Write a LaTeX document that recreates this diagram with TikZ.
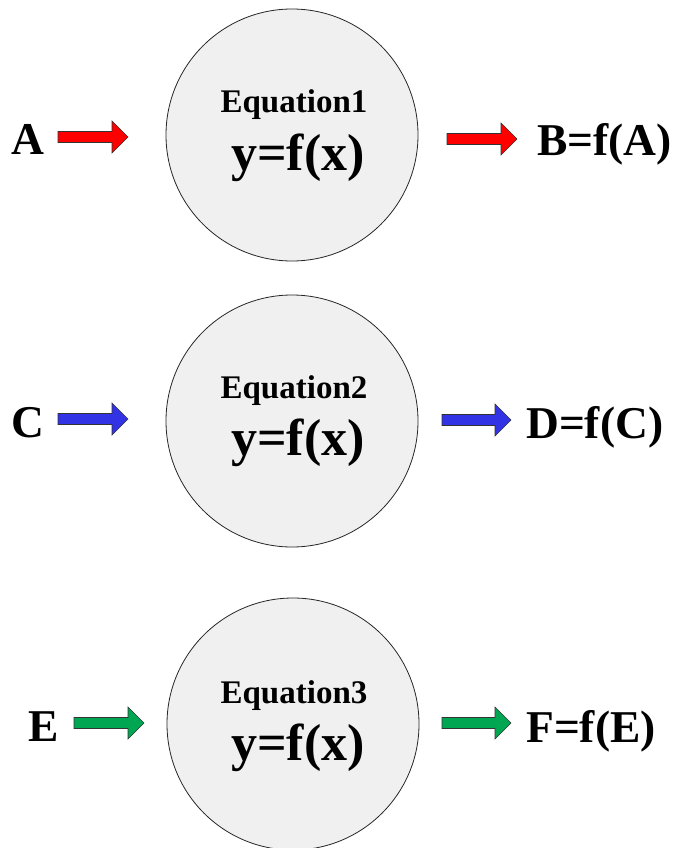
\documentclass[tikz,border=0pt]{standalone}
\usepackage{fontspec}
\setmainfont{Liberation Serif}
\definecolor{circfill}{HTML}{F0F0F0}
\definecolor{arrred}{HTML}{FF0000}
\definecolor{arrblue}{HTML}{3333E6}
\definecolor{arrgreen}{HTML}{00A651}
\definecolor{edgegray}{HTML}{333333}
\newcommand{\blockarr}[4]{%
  \draw[arrowbox, fill=#4] (#1,#3-5.5) -- (#2-16,#3-5.5) -- (#2-16,#3-16) -- (#2,#3)
    -- (#2-16,#3+16) -- (#2-16,#3+5.5) -- (#1,#3+5.5) -- cycle;}
\begin{document}
\begin{tikzpicture}[x=1pt,y=-1pt,
  eqcircle/.style={circle, draw=black!85, line width=0.8pt, fill=circfill,
    minimum size=252pt, inner sep=0pt},
  arrowbox/.style={draw=edgegray, line width=0.6pt, line join=miter},
  biglabel/.style={font=\bfseries\fontsize{45.5}{45.5}\selectfont, inner sep=0pt},
  eqname/.style={font=\bfseries\fontsize{33}{33}\selectfont, inner sep=0pt},
  eqfun/.style={font=\bfseries\fontsize{52}{52}\selectfont, inner sep=0pt}]
\useasboundingbox (0,0) rectangle (675,848);
\clip (0,0) rectangle (675,848);
% circles
\node[eqcircle] (c1) at (292,135) {};
\node[eqcircle] (c2) at (292,421) {};
\node[eqcircle] (c3) at (293,724) {};
% circle texts
\node[eqname, anchor=base] (e1) at (294,113) {Equation1};
\node[eqfun, anchor=base] (f1) at (298,170) {y=f(x)};
\node[eqname, anchor=base] (e2) at (294,398) {Equation2};
\node[eqfun, anchor=base] (f2) at (298,455) {y=f(x)};
\node[eqname, anchor=base] (e3) at (294,703) {Equation3};
\node[eqfun, anchor=base] (f3) at (298,760) {y=f(x)};
% labels
\node[biglabel, anchor=base] (a) at (28,154) {A};
\node[biglabel, anchor=base west] (b) at (537,155) {B=f(A)};
\node[biglabel, anchor=base] (cc) at (28,437) {C};
\node[biglabel, anchor=base west] (d) at (526,438) {D=f(C)};
\node[biglabel, anchor=base] (ee) at (44,741) {E};
\node[biglabel, anchor=base west] (ff) at (526,742) {F=f(E)};
% block arrows
\blockarr{58}{128}{137}{arrred}
\blockarr{447}{517}{139}{arrred}
\blockarr{58}{128}{419}{arrblue}
\blockarr{442}{511}{420}{arrblue}
\blockarr{74}{144}{723}{arrgreen}
\blockarr{442}{511}{723}{arrgreen}
\end{tikzpicture}
\end{document}
